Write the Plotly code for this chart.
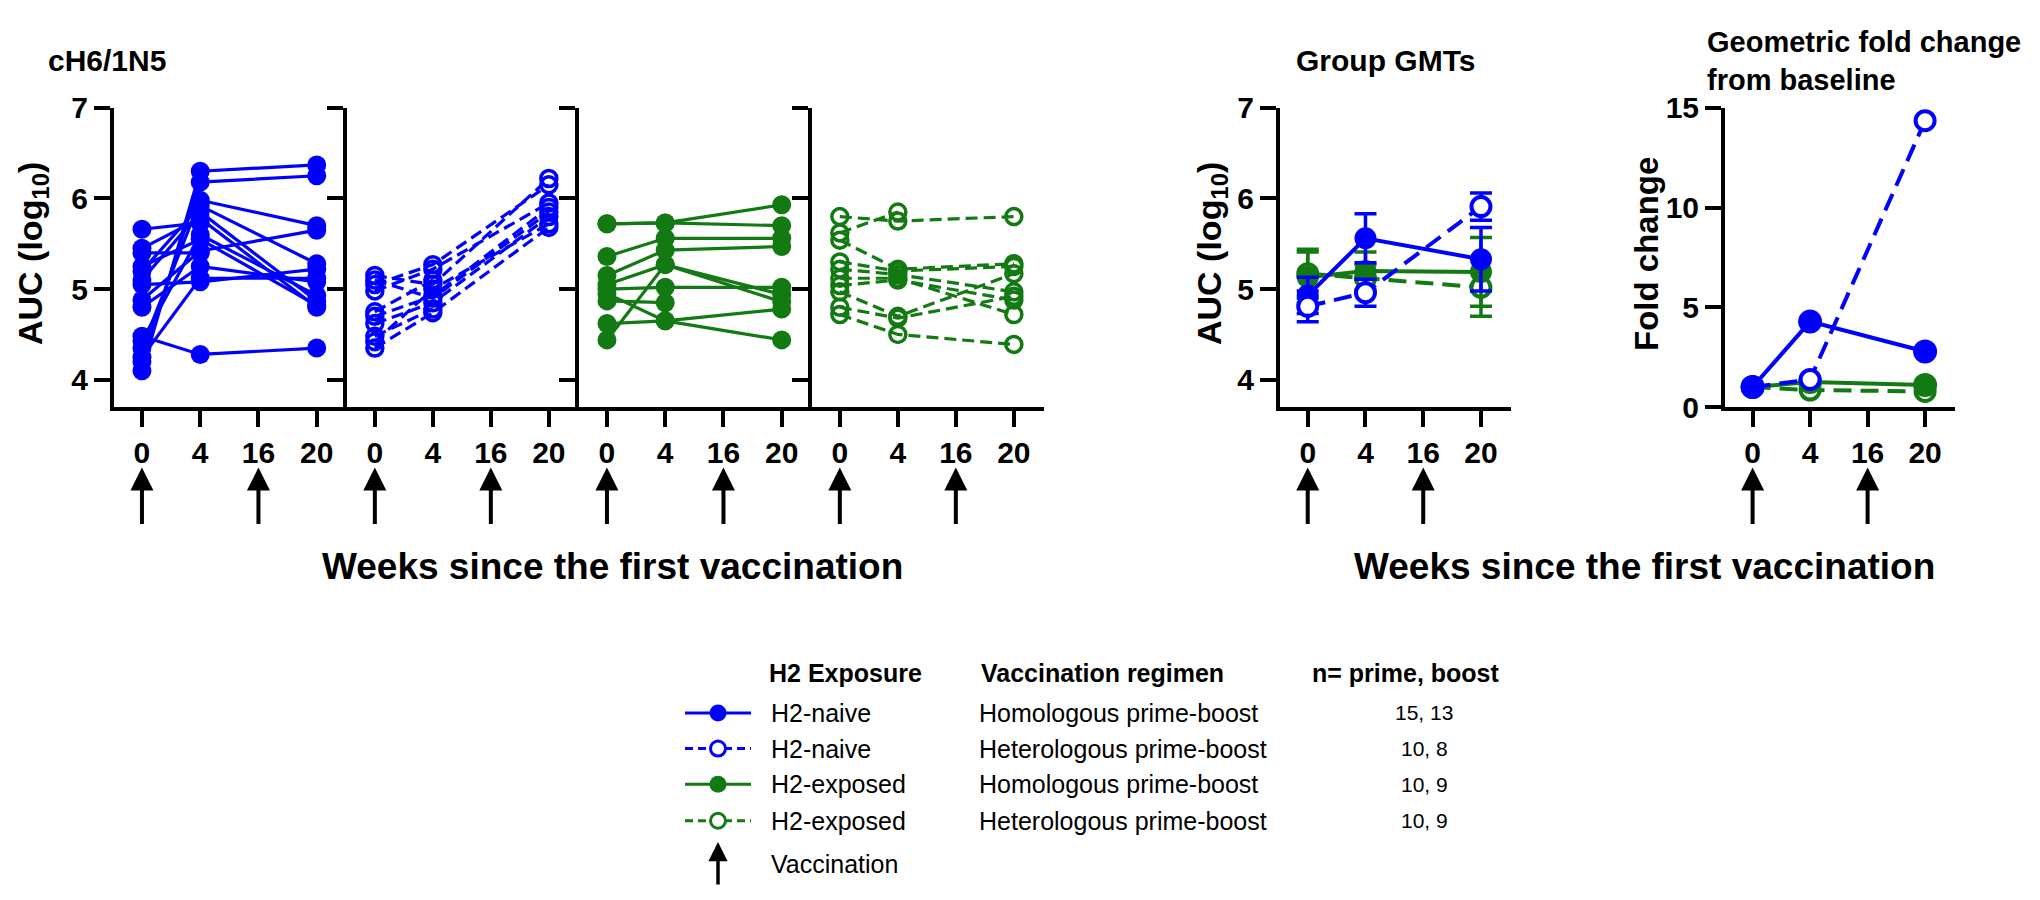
import plotly.graph_objects as go

# ---------------- data ----------------
weeks = ["0", "4", "16", "20"]          # x categories (tick labels)
vacc_weeks = ["0", "16"]                 # vaccination time points (arrows)

# individual AUC (log10) values, one entry per subject; None = not boosted
naive_homo_w0 = [4.10, 4.20, 4.25, 4.35, 4.43, 4.48, 4.80, 4.88, 5.05, 5.10, 5.20, 5.25, 5.40, 5.45, 5.66]
naive_homo_w4 = [6.30, 6.18, 5.12, 5.98, 5.60, 4.28, 5.25, 5.42, 5.08, 5.85, 5.92, 5.55, 5.40, 5.78, 5.73]
naive_homo_w20 = [6.37, 6.25, 5.12, 5.70, 4.93, 4.35, 5.08, 5.65, 5.22, 4.87, 5.28, 4.82, None, 4.80, None]

naive_hetero_w0 = [5.15, 5.10, 5.05, 4.98, 4.75, 4.70, 4.62, 4.48, 4.42, 4.35]
naive_hetero_w4 = [5.05, 4.90, 5.27, 5.22, 5.10, 4.92, 4.85, 4.78, 5.00, 4.74]
naive_hetero_w20 = [6.22, 5.85, 6.15, 5.95, None, 5.90, 5.80, None, 5.72, 5.68]

exposed_homo_w0 = [5.72, 5.72, 5.36, 5.15, 5.05, 4.44, 5.00, 4.95, 4.62, 4.87]
exposed_homo_w4 = [5.73, 5.73, 5.56, 5.43, 5.27, 5.27, 5.02, 4.65, 4.65, 4.85]
exposed_homo_w20 = [5.93, 5.70, 5.56, 5.47, 4.94, 4.86, 5.02, 4.44, 4.78, None]

exposed_hetero_w0 = [5.80, 5.62, 5.54, 5.30, 5.22, 5.12, 5.04, 4.97, 4.80, 4.72]
exposed_hetero_w4 = [5.75, 5.85, 5.22, 5.20, 5.16, 5.12, 5.10, 4.70, 4.68, 4.50]
exposed_hetero_w20 = [5.80, None, 5.28, 5.25, 4.97, 4.72, 4.88, 5.17, 4.92, 4.39]

# group geometric means (log10 AUC) and error
gmt_weeks = ["0", "4", "20"]
gmt_naive_homo = [4.93, 5.56, 5.33]
gmt_naive_homo_err = [0.20, 0.27, 0.35]
gmt_naive_hetero = [4.81, 4.96, 5.91]
gmt_naive_hetero_err = [0.17, 0.15, 0.15]
gmt_exposed_homo = [5.13, 5.20, 5.19]
gmt_exposed_homo_err = [0.28, 0.21, 0.38]
gmt_exposed_hetero = [5.17, 5.12, 5.02]
gmt_exposed_hetero_err = [0.27, 0.15, 0.32]

# geometric fold change from baseline
fold_naive_homo = [1.0, 4.28, 2.78]
fold_naive_hetero = [1.0, 1.38, 14.35]
fold_exposed_homo = [1.0, 1.25, 1.10]
fold_exposed_hetero = [1.0, 0.85, 0.78]

legend_exposure = ["H2-naive", "H2-naive", "H2-exposed", "H2-exposed"]
legend_regimen = ["Homologous prime-boost", "Heterologous prime-boost",
                  "Homologous prime-boost", "Heterologous prime-boost"]
legend_n = ["15, 13", "10, 8", "10, 9", "10, 9"]

# ---------------- styling / layout helpers ----------------
W, H = 2040, 900
BLUE = "#0000FF"
GREEN = "#137A13"
FONT = "Liberation Sans, Arial, Helvetica, sans-serif"


def fx(px):
    return px / W


def fy(py):
    return 1 - py / H


idx = {w: i for i, w in enumerate(weeks)}
Y_TOP, Y_BOT = 86, 397
XR = [-0.48, 3.52]

fig = go.Figure()

styles = [
    dict(color=BLUE, filled=True, dash="solid"),
    dict(color=BLUE, filled=False, dash="12px,6px"),
    dict(color=GREEN, filled=True, dash="solid"),
    dict(color=GREEN, filled=False, dash="12px,6px"),
]

indiv = [
    (naive_homo_w0, naive_homo_w4, naive_homo_w20),
    (naive_hetero_w0, naive_hetero_w4, naive_hetero_w20),
    (exposed_homo_w0, exposed_homo_w4, exposed_homo_w20),
    (exposed_hetero_w0, exposed_hetero_w4, exposed_hetero_w20),
]


def marker_for(st, size_f=19, size_o=16, lw=3.5, open_fill="rgba(0,0,0,0)"):
    if st["filled"]:
        return dict(symbol="circle", size=size_f, color=st["color"], line=dict(width=0))
    return dict(symbol="circle", size=size_o, color=open_fill, line=dict(width=lw, color=st["color"]))


for p, (grp, st) in enumerate(zip(indiv, styles)):
    xs, ys = [], []
    for a, b, c in zip(*grp):
        pts = [(idx["0"], a), (idx["4"], b)]
        if c is not None:
            pts.append((idx["20"], c))
        for x, y in pts:
            xs.append(x)
            ys.append(y)
        xs.append(None)
        ys.append(None)
    ax = "" if p == 0 else str(p + 1)
    fig.add_trace(go.Scatter(
        x=xs, y=ys, mode="lines+markers", xaxis="x" + ax, yaxis="y" + ax,
        line=dict(color=st["color"], width=3.2, dash=st["dash"]),
        marker=marker_for(st), showlegend=False, hoverinfo="skip", connectgaps=False,
        cliponaxis=False))

# GMT panel (axis 5)
gmt = [
    (gmt_exposed_hetero, gmt_exposed_hetero_err, styles[3]),
    (gmt_exposed_homo, gmt_exposed_homo_err, styles[2]),
    (gmt_naive_homo, gmt_naive_homo_err, styles[0]),
    (gmt_naive_hetero, gmt_naive_hetero_err, styles[1]),
]
for vals, err, st in gmt:
    fig.add_trace(go.Scatter(
        x=[idx[w] for w in gmt_weeks], y=vals, mode="lines+markers", xaxis="x5", yaxis="y5",
        line=dict(color=st["color"], width=4, dash="solid" if st["filled"] else "18px,9px"),
        marker=marker_for(st, size_f=22, size_o=19, lw=4, open_fill="white"),
        error_y=dict(type="data", array=err, visible=True, color=st["color"], thickness=3.5, width=11),
        showlegend=False, hoverinfo="skip", cliponaxis=False))

# fold change panel (axis 6)
fold = [
    (fold_exposed_hetero, styles[3]),
    (fold_exposed_homo, styles[2]),
    (fold_naive_hetero, styles[1]),
    (fold_naive_homo, styles[0]),
]
for vals, st in fold:
    fig.add_trace(go.Scatter(
        x=[idx[w] for w in gmt_weeks], y=vals, mode="lines+markers", xaxis="x6", yaxis="y6",
        line=dict(color=st["color"], width=4, dash="solid" if st["filled"] else "18px,9px"),
        marker=marker_for(st, size_f=24, size_o=19, lw=4, open_fill="white"),
        showlegend=False, hoverinfo="skip", cliponaxis=False))

# ---------------- axes ----------------
tickfont = dict(family=FONT, size=30, color="black", weight="bold")
common_x = dict(range=XR, tickvals=list(range(len(weeks))), ticktext=weeks, showline=True,
                linewidth=4, linecolor="black", ticks="outside", ticklen=16, tickwidth=4,
                tickcolor="black", showgrid=False, zeroline=False, tickfont=tickfont, fixedrange=True)
common_y = dict(showline=True, linewidth=4, linecolor="black", ticks="outside", ticklen=16,
                tickwidth=4, tickcolor="black", showgrid=False, zeroline=False, tickfont=tickfont,
                fixedrange=True)

panel_px = [(106, 339), (339, 571), (571, 804), (804, 1036), (1272, 1503), (1717, 1947)]
ydom = [fy(Y_BOT), fy(Y_TOP)]
lay = {}
for i, (l, r) in enumerate(panel_px):
    n = "" if i == 0 else str(i + 1)
    lay["xaxis" + n] = dict(common_x, domain=[fx(l), fx(r)], anchor="y" + n)
    yd = dict(common_y, domain=ydom, anchor="x" + n)
    if i < 5:
        yd.update(range=[3.7, 7], tickvals=[4, 5, 6, 7])
    else:
        yd.update(range=[0, 15], tickvals=[0, 5, 10, 15])
    if i in (1, 2, 3):
        yd.update(showticklabels=False)
    lay["yaxis" + n] = yd

# overlay pixel-space axis for legend items
lay["xaxis7"] = dict(domain=[0, 1], range=[0, W], visible=False, fixedrange=True, anchor="y7")
lay["yaxis7"] = dict(domain=[0, 1], range=[H, 0], visible=False, fixedrange=True, anchor="x7")

annotations = []


def txt(x, y, text, size, bold=False, xanchor="center", angle=0):
    annotations.append(dict(
        x=x, y=y, xref="x7", yref="y7", text=("<b>%s</b>" % text) if bold else text,
        showarrow=False, xanchor=xanchor, yanchor="middle", textangle=angle,
        font=dict(family=FONT, size=size, color="black")))


# titles
txt(38, 37, "cH6/1N5", 30, bold=True, xanchor="left")
txt(1377, 37, "Group GMTs", 30, bold=True)
txt(1697, 18, "Geometric fold change", 29, bold=True, xanchor="left")
txt(1697, 57, "from baseline", 29, bold=True, xanchor="left")
txt(24, 238, "AUC (log<sub>10</sub>)", 34, bold=True, angle=-90)
txt(1203, 238, "AUC (log<sub>10</sub>)", 34, bold=True, angle=-90)
txt(1638, 238, "Fold change", 33, bold=True, angle=-90)
txt(604, 563, "Weeks since the first vaccination", 37, bold=True)
txt(1636, 563, "Weeks since the first vaccination", 37, bold=True)

# vaccination arrows below each panel
for i in range(6):
    n = "" if i == 0 else str(i + 1)
    for w in vacc_weeks:
        annotations.append(dict(
            x=idx[w], y=fy(460), xref="x" + n, yref="paper", text="", showarrow=True,
            ax=0, ay=58, axref="pixel", ayref="pixel", arrowhead=2, arrowsize=1.15,
            arrowwidth=4, arrowcolor="black"))

# legend table
ROW_Y = [715, 752, 789, 827]
txt(759, 673, "H2 Exposure", 25, bold=True, xanchor="left")
txt(971, 673, "Vaccination regimen", 25, bold=True, xanchor="left")
txt(1302, 673, "n= prime, boost", 25, bold=True, xanchor="left")
for ry, st, e, rg, nn in zip(ROW_Y, styles, legend_exposure, legend_regimen, legend_n):
    fig.add_trace(go.Scatter(
        x=[677, 743], y=[ry, ry], mode="lines", xaxis="x7", yaxis="y7",
        line=dict(color=st["color"], width=3, dash="solid" if st["filled"] else "8px,5px"),
        showlegend=False, hoverinfo="skip"))
    fig.add_trace(go.Scatter(
        x=[710], y=[ry], mode="markers", xaxis="x7", yaxis="y7",
        marker=marker_for(st, size_f=17, size_o=15, lw=3, open_fill="white"),
        showlegend=False, hoverinfo="skip"))
    txt(761, ry, e, 25, xanchor="left")
    txt(969, ry, rg, 25, xanchor="left")
    txt(1416, ry, nn, 21)
annotations.append(dict(x=710, y=849, xref="x7", yref="y7", text="", showarrow=True, ax=0, ay=44,
                        arrowhead=2, arrowsize=1.1, arrowwidth=3.5, arrowcolor="black"))
txt(761, 872, "Vaccination", 25, xanchor="left")

fig.update_layout(
    width=W, height=H, autosize=False, margin=dict(l=0, r=0, t=0, b=0),
    paper_bgcolor="white", plot_bgcolor="rgba(0,0,0,0)", showlegend=False,
    annotations=annotations, **lay)

fig.write_html("out.html")
